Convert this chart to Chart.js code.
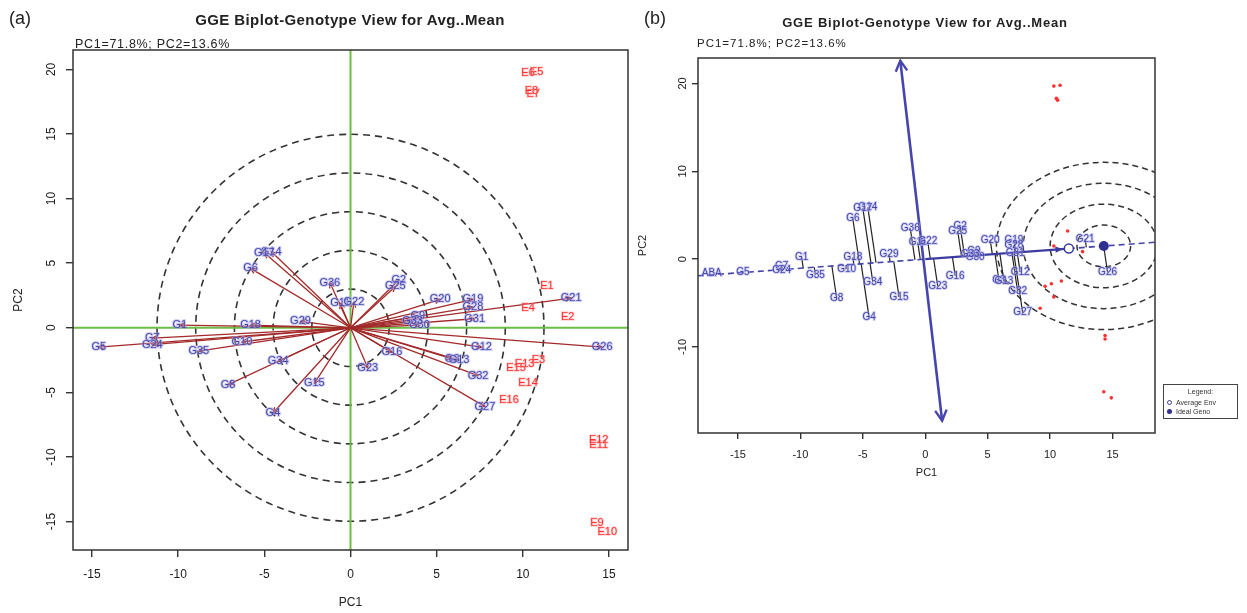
<!DOCTYPE html>
<html><head><meta charset="utf-8">
<script src="https://cdn.jsdelivr.net/npm/chart.js@4.4.1/dist/chart.umd.min.js"></script>
<style>
body{margin:0;background:#fff;width:1247px;height:613px;overflow:hidden;position:relative;font-family:'Liberation Sans',sans-serif;color:#222;}
canvas{position:absolute;top:0;}
#ca{left:0;}
#cb{left:636px;}
.t{position:absolute;white-space:nowrap;line-height:1;font-family:'Liberation Sans',sans-serif;}
.leg{position:absolute;left:1163px;top:384px;width:73px;height:33px;border:1px solid #444;font-size:7px;color:#333;font-family:'Liberation Sans',sans-serif;}
.leg .r{position:relative;height:9px;padding-left:12px;line-height:9px;}
.dot{position:absolute;left:3px;top:2px;width:5px;height:5px;border-radius:50%;box-sizing:border-box;}
</style></head><body>
<canvas id="ca" width="640" height="613" style="width:640px;height:613px"></canvas>
<canvas id="cb" width="611" height="490" style="width:611px;height:490px"></canvas>
<div class="t" style="left:9px;top:9px;font-size:18px">(a)</div>
<div class="t" style="left:150px;width:400px;text-align:center;top:12px;font-size:15px;font-weight:bold;letter-spacing:0.4px">GGE Biplot-Genotype View for Avg..Mean</div>
<div class="t" style="left:75px;top:38px;font-size:12.5px;letter-spacing:0.7px">PC1=71.8%; PC2=13.6%</div>
<div class="t" style="left:644px;top:9px;font-size:18px">(b)</div>
<div class="t" style="left:740px;width:370px;text-align:center;top:16px;font-size:13px;font-weight:bold;letter-spacing:0.8px">GGE Biplot-Genotype View for Avg..Mean</div>
<div class="t" style="left:697px;top:38px;font-size:11.5px;letter-spacing:1px">PC1=71.8%; PC2=13.6%</div>
<div class="leg">
  <div style="text-align:center;margin-top:3px;height:10px">Legend:</div>
  <div class="r"><span class="dot" style="border:1.3px solid #3c3ca0;background:#fff"></span>Average Env</div>
  <div class="r"><span class="dot" style="background:#303090"></span>Ideal Geno</div>
</div>
<script>
// ---------- data ----------
const genoNames = ['G1','G2','G3','G4','G5','G6','G7','G8','G9','G10','G11','G12','G13','G14','G15','G16','G17','G18','G19','G20','G21','G22','G23','G24','G25','G26','G27','G28','G29','G30','G31','G32','G33','G34','G35','G36'];
const genoPC1 = [-9.9, 2.8, 5.9, -4.5, -14.6, -5.8, -11.5, -7.1, 3.9, -6.3, -0.6, 7.6, 6.3, -4.6, -2.1, 2.4, -5.0, -5.8, 7.1, 5.2, 12.8, 0.2, 1.0, -11.5, 2.6, 14.6, 7.8, 7.1, -2.9, 4.0, 7.2, 7.4, 3.6, -4.2, -8.8, -1.2];
const genoPC2 = [0.2, 3.7, -2.4, -6.6, -1.5, 4.6, -0.8, -4.4, 0.9, -1.1, 1.9, -1.5, -2.5, 5.9, -4.3, -1.9, 5.8, 0.2, 2.2, 2.2, 2.3, 2.0, -3.1, -1.3, 3.2, -1.5, -6.1, 1.6, 0.5, 0.2, 0.7, -3.7, 0.5, -2.6, -1.8, 3.5];
const envNames = ['E1','E2','E3','E4','E5','E6','E7','E8','E9','E10','E11','E12','E13','E14','E15','E16'];
const envPC1 = [11.4, 12.6, 10.9, 10.3, 10.8, 10.3, 10.6, 10.5, 14.3, 14.9, 14.4, 14.4, 10.1, 10.3, 9.6, 9.2];
const envPC2 = [3.2, 0.85, -2.5, 1.5, 19.8, 19.7, 18.1, 18.3, -15.1, -15.8, -9.1, -8.7, -2.8, -4.3, -3.1, -5.6];
const xTicksA = [-15,-10,-5,0,5,10,15];
const yTicksA = [-15,-10,-5,0,5,10,15,20];
const xTicksB = [-15,-10,-5,0,5,10,15];
const yTicksB = [-10,0,10,20];
const avgEnv = [11.5, 1.2];
const idealGeno = [14.3, 1.5];
const atcTop = [-2.0, 22.6];
const atcBottom = [1.35, -18.4];
const ringsA = [2.245, 4.49, 6.735, 8.98, 11.225];      // PC1 units (circles on device)
const ringsB = [1, 2, 3, 4];                            // ring multiples around ideal genotype
const ringStepB = [2.15, 2.38];                         // PC1 / PC2 units per ring

// ---------- helpers ----------
const FONT = "'Liberation Sans', Arial, sans-serif";
function haloText(ctx, t, x, y, fill, halo, lw){
  ctx.lineWidth = lw; ctx.strokeStyle = halo; ctx.strokeText(t, x, y);
  ctx.fillStyle = fill; ctx.fillText(t, x, y);
}
function arrowHead(ctx, x0, y0, x1, y1, len, ang){
  const a = Math.atan2(y1 - y0, x1 - x0);
  ctx.beginPath();
  ctx.moveTo(x1 - len*Math.cos(a-ang), y1 - len*Math.sin(a-ang));
  ctx.lineTo(x1, y1);
  ctx.lineTo(x1 - len*Math.cos(a+ang), y1 - len*Math.sin(a+ang));
  ctx.stroke();
}
function drawBoxAndY(chart, off, font){
  const {ctx, chartArea: ca, scales: {y}} = chart;
  ctx.save();
  ctx.strokeStyle = '#333'; ctx.lineWidth = 1.5; ctx.setLineDash([]);
  ctx.strokeRect(ca.left, ca.top, ca.right - ca.left, ca.bottom - ca.top);
  ctx.font = font; ctx.fillStyle = '#1a1a1a'; ctx.textAlign = 'center'; ctx.textBaseline = 'middle';
  y.ticks.forEach(t => {
    ctx.save(); ctx.translate(ca.left - off, y.getPixelForValue(t.value)); ctx.rotate(-Math.PI/2);
    ctx.fillText(String(t.value), 0, 0); ctx.restore();
  });
  ctx.restore();
}
function scaleOpts(min, max, ticksArr, fit, isX, tickLen, tickFont, title, titleFont, titlePad){
  return {
    type: 'linear', min, max,
    afterBuildTicks: s => { s.ticks = ticksArr.map(v => ({value: v})); },
    afterFit: s => { if (isX) s.height = fit; else s.width = fit; },
    grid: {drawOnChartArea: false, drawTicks: true, tickLength: tickLen, color: '#333', lineWidth: 1.4},
    border: {display: false},
    ticks: {color: isX ? '#1a1a1a' : 'rgba(0,0,0,0)', font: {family: FONT, size: tickFont}, padding: isX ? titlePad[1] : 2, maxRotation: 0, minRotation: 0},
    title: {display: true, text: title, color: '#222', font: {family: FONT, size: titleFont}, padding: isX ? {bottom: titlePad[0], top: 0} : {top: titlePad[0], bottom: 0}}
  };
}

// ---------- panel (a) ----------
const dsA = [];
genoNames.forEach((n, i) => {
  dsA.push({data: [{x: 0, y: 0}, {x: genoPC1[i], y: genoPC2[i]}], showLine: true, borderColor: '#a32a2a', borderWidth: 1.3, pointRadius: 0, order: 1});
});
dsA.push({data: [{x: -16.1, y: 0}, {x: 16.1, y: 0}], showLine: true, borderColor: '#6cbd45', borderWidth: 2, pointRadius: 0, order: 5});
dsA.push({data: [{x: 0, y: -17.2}, {x: 0, y: 21.5}], showLine: true, borderColor: '#6cbd45', borderWidth: 2, pointRadius: 0, order: 5});

const plugA = {
  id: 'plugA',
  beforeDatasetsDraw(chart){
    const {ctx, chartArea: ca, scales: {x, y}} = chart;
    ctx.save();
    ctx.beginPath(); ctx.rect(ca.left, ca.top, ca.right - ca.left, ca.bottom - ca.top); ctx.clip();
    const ox = x.getPixelForValue(0), oy = y.getPixelForValue(0);
    ctx.setLineDash([7, 5]); ctx.strokeStyle = '#333'; ctx.lineWidth = 1.6;
    ringsA.forEach(r => { const rp = x.getPixelForValue(r) - ox; ctx.beginPath(); ctx.arc(ox, oy, rp, 0, 2*Math.PI); ctx.stroke(); });
    ctx.restore();
  },
  afterDatasetsDraw(chart){
    const {ctx, scales: {x, y}} = chart;
    const ox = x.getPixelForValue(0), oy = y.getPixelForValue(0);
    ctx.save();
    ctx.strokeStyle = '#a32a2a'; ctx.lineWidth = 1.3; ctx.setLineDash([]);
    genoNames.forEach((n, i) => {
      arrowHead(ctx, ox, oy, x.getPixelForValue(genoPC1[i]), y.getPixelForValue(genoPC2[i]), 6, 0.45);
    });
    ctx.font = `11px ${FONT}`; ctx.textAlign = 'center'; ctx.textBaseline = 'middle';
    genoNames.forEach((n, i) => {
      haloText(ctx, n, x.getPixelForValue(genoPC1[i]), y.getPixelForValue(genoPC2[i]), '#4646aa', 'rgba(170,170,235,0.55)', 2);
    });
    envNames.forEach((n, i) => {
      haloText(ctx, n, x.getPixelForValue(envPC1[i]), y.getPixelForValue(envPC2[i]), '#ff3030', 'rgba(255,170,170,0.5)', 1.6);
    });
    ctx.restore();
    drawBoxAndY(chart, 21, `12px ${FONT}`);
  }
};

new Chart(document.getElementById('ca'), {
  type: 'scatter',
  data: {datasets: dsA},
  options: {
    responsive: false, animation: false, devicePixelRatio: 1,
    layout: {padding: {left: 0, top: 50, right: 12, bottom: 0}},
    plugins: {legend: {display: false}, tooltip: {enabled: false}},
    scales: {
      x: scaleOpts(-16.1, 16.1, xTicksA, 63, true, 7, 12, 'PC1', 12, [3, 10]),
      y: scaleOpts(-17.2, 21.5, yTicksA, 73, false, 7, 12, 'PC2', 12, [11, 0])
    }
  },
  plugins: [plugA]
});

// ---------- panel (b) ----------
const ux = avgEnv[0] / Math.hypot(avgEnv[0], avgEnv[1]);
const uy = avgEnv[1] / Math.hypot(avgEnv[0], avgEnv[1]);
const slope = avgEnv[1] / avgEnv[0];
const xMinB = -18.2, xMaxB = 18.4;
const dsB = [];
genoNames.forEach((n, i) => {
  const d = genoPC1[i]*ux + genoPC2[i]*uy;
  dsB.push({data: [{x: genoPC1[i], y: genoPC2[i]}, {x: d*ux, y: d*uy}], showLine: true, borderColor: '#222', borderWidth: 1.2, pointRadius: 0, order: 3});
});
dsB.push({data: [{x: xMinB, y: xMinB*slope}, {x: 0, y: 0}], showLine: true, borderColor: '#4444aa', borderWidth: 1.6, borderDash: [6, 4], pointRadius: 0, order: 2});
dsB.push({data: [{x: 0, y: 0}, {x: avgEnv[0], y: avgEnv[1]}], showLine: true, borderColor: '#3c3ca0', borderWidth: 2.2, pointRadius: 0, order: 2});
dsB.push({data: [{x: avgEnv[0], y: avgEnv[1]}, {x: xMaxB, y: xMaxB*slope}], showLine: true, borderColor: '#4444aa', borderWidth: 1.6, borderDash: [6, 4], pointRadius: 0, order: 2});
dsB.push({data: [{x: atcTop[0], y: atcTop[1]}, {x: atcBottom[0], y: atcBottom[1]}], showLine: true, borderColor: '#4545ad', borderWidth: 2.6, pointRadius: 0, order: 2});
dsB.push({data: envNames.map((n, i) => ({x: envPC1[i], y: envPC2[i]})), showLine: false, pointRadius: 1.8, pointBackgroundColor: '#ff3030', pointBorderWidth: 0, order: 1});
dsB.push({data: [{x: avgEnv[0], y: avgEnv[1]}], pointRadius: 4.5, pointBackgroundColor: '#fff', pointBorderColor: '#3c3ca0', pointBorderWidth: 1.5, order: 0});
dsB.push({data: [{x: idealGeno[0], y: idealGeno[1]}], pointRadius: 5, pointBackgroundColor: '#303090', pointBorderWidth: 0, order: 0});

const plugB = {
  id: 'plugB',
  beforeDatasetsDraw(chart){
    const {ctx, chartArea: ca, scales: {x, y}} = chart;
    ctx.save();
    ctx.beginPath(); ctx.rect(ca.left, ca.top, ca.right - ca.left, ca.bottom - ca.top); ctx.clip();
    const cx = x.getPixelForValue(idealGeno[0]), cy = y.getPixelForValue(idealGeno[1]);
    ctx.setLineDash([6, 4]); ctx.strokeStyle = '#333'; ctx.lineWidth = 1.5;
    ringsB.forEach(k => {
      const rx = x.getPixelForValue(idealGeno[0] + k*ringStepB[0]) - cx;
      const ry = cy - y.getPixelForValue(idealGeno[1] + k*ringStepB[1]);
      ctx.beginPath(); ctx.ellipse(cx, cy, rx, ry, 0, 0, 2*Math.PI); ctx.stroke();
    });
    ctx.restore();
  },
  afterDatasetsDraw(chart){
    const {ctx, scales: {x, y}} = chart;
    ctx.save();
    ctx.setLineDash([]);
    const tx = x.getPixelForValue(atcTop[0]), ty = y.getPixelForValue(atcTop[1]);
    const bx = x.getPixelForValue(atcBottom[0]), by = y.getPixelForValue(atcBottom[1]);
    ctx.strokeStyle = '#4545ad'; ctx.lineWidth = 2.4;
    arrowHead(ctx, bx, by, tx, ty, 12, 0.5);
    arrowHead(ctx, tx, ty, bx, by, 12, 0.5);
    const ax = x.getPixelForValue(avgEnv[0]), ay = y.getPixelForValue(avgEnv[1]);
    const ox = x.getPixelForValue(0), oy = y.getPixelForValue(0);
    const L = Math.hypot(ax - ox, ay - oy);
    const hx = ax - (ax - ox)/L*6, hy = ay - (ay - oy)/L*6;
    ctx.fillStyle = '#3c3ca0';
    const a = Math.atan2(hy - oy, hx - ox);
    ctx.beginPath(); ctx.moveTo(hx, hy);
    ctx.lineTo(hx - 8*Math.cos(a-0.4), hy - 8*Math.sin(a-0.4));
    ctx.lineTo(hx - 8*Math.cos(a+0.4), hy - 8*Math.sin(a+0.4)); ctx.closePath(); ctx.fill();
    ctx.font = `10px ${FONT}`; ctx.textAlign = 'center'; ctx.textBaseline = 'middle';
    genoNames.forEach((n, i) => {
      haloText(ctx, n, x.getPixelForValue(genoPC1[i]), y.getPixelForValue(genoPC2[i]), '#4646aa', 'rgba(170,170,235,0.55)', 1.8);
    });
    haloText(ctx, 'ABA', x.getPixelForValue(-17.1), y.getPixelForValue(-1.6), '#4646aa', 'rgba(170,170,235,0.55)', 1.8);
    ctx.restore();
    drawBoxAndY(chart, 15, `11px ${FONT}`);
  }
};

new Chart(document.getElementById('cb'), {
  type: 'scatter',
  data: {datasets: dsB},
  options: {
    responsive: false, animation: false, devicePixelRatio: 1,
    layout: {padding: {left: 0, top: 58, right: 92, bottom: 0}},
    plugins: {legend: {display: false}, tooltip: {enabled: false}},
    scales: {
      x: scaleOpts(xMinB, xMaxB, xTicksB, 57, true, 6, 11, 'PC1', 11, [10, 9]),
      y: scaleOpts(-19.8, 22.9, yTicksB, 62, false, 6, 11, 'PC2', 11, [0, 0])
    }
  },
  plugins: [plugB]
});
</script>
</body></html>
